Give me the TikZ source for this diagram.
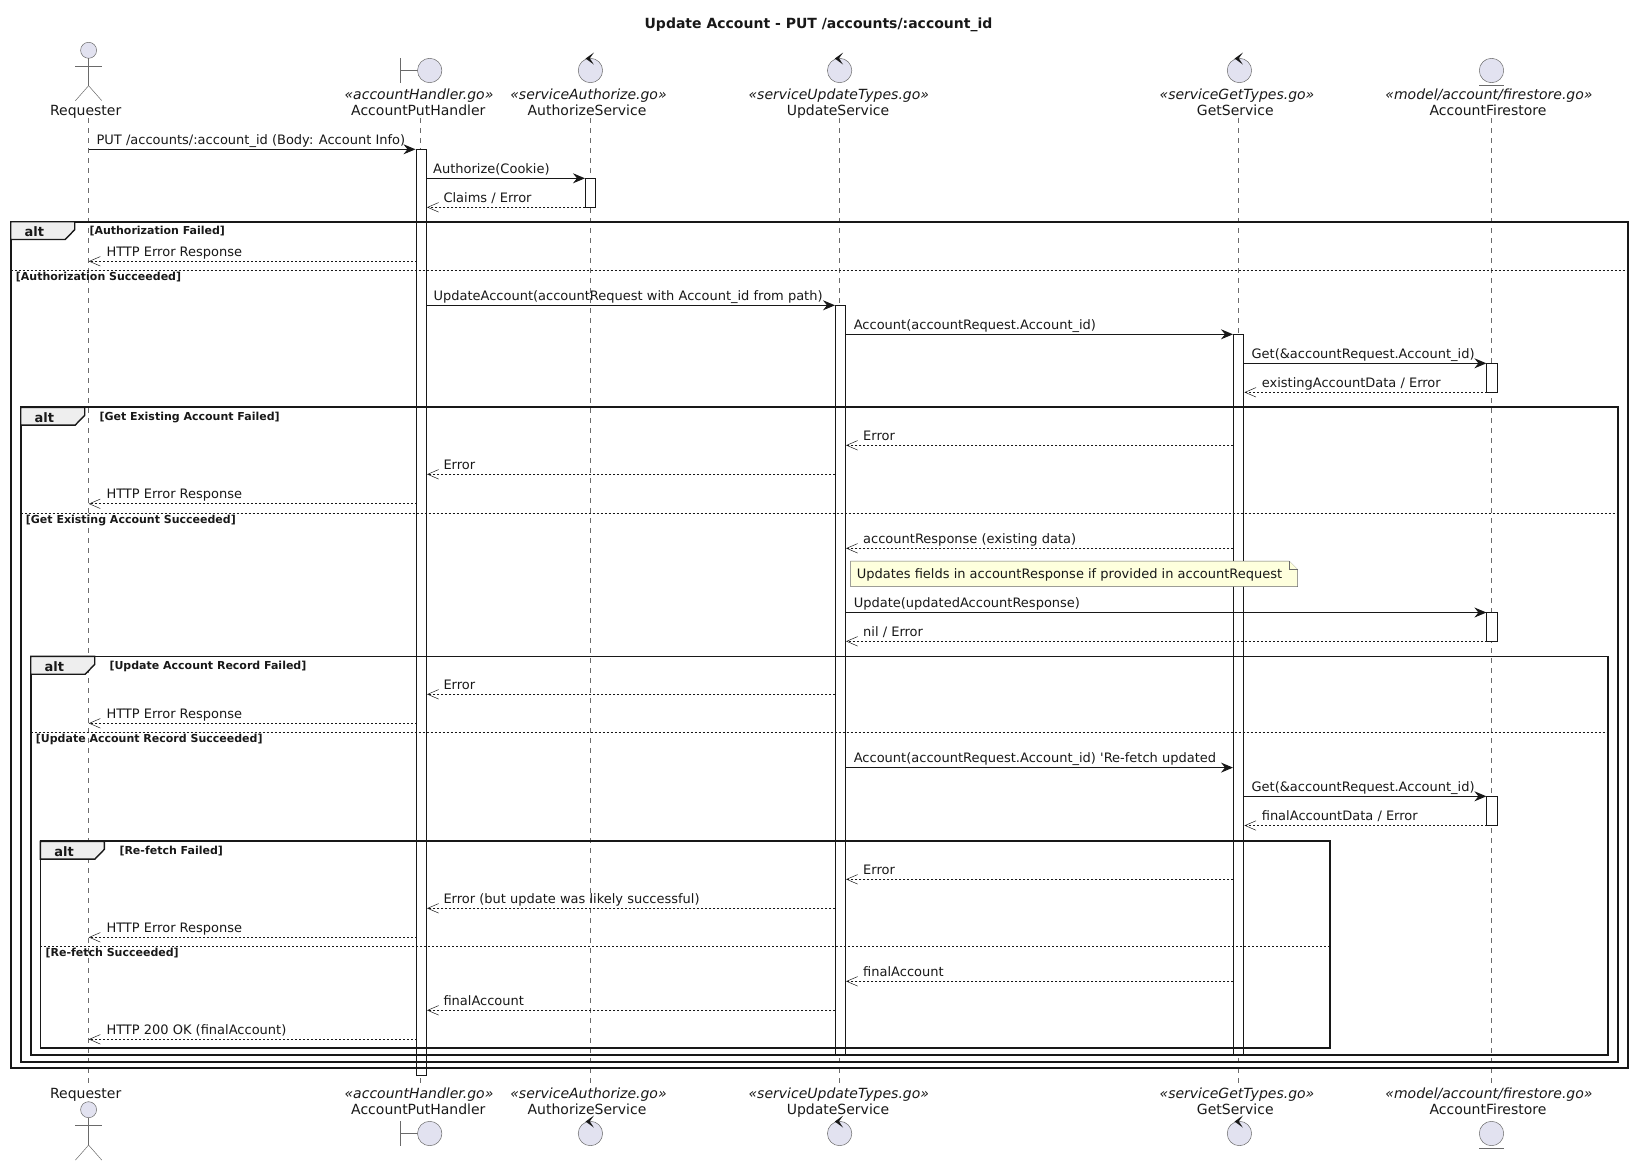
\documentclass[tikz,border=0pt]{standalone}
\usepackage{fontspec}
\setmainfont{DejaVu Sans}
\usetikzlibrary{arrows.meta}
\definecolor{ink}{HTML}{181818}
\definecolor{thin}{HTML}{6A6A6A}
\definecolor{actorfill}{HTML}{E2E2F0}
\definecolor{notefill}{HTML}{FEFFDD}
\definecolor{tabfill}{HTML}{EEEEEE}
\newcounter{mrow}
\newcounter{arow}
\tikzset{
  lifeline/.style={draw=thin,line width=.5pt,dash pattern=on 5pt off 5pt},
  actorshape/.style={draw=thin,line width=.5pt,fill=actorfill},
  actorstroke/.style={draw=thin,line width=.5pt},
  actorname/.style={inner sep=0pt,anchor=base,font=\fontsize{14}{16}\selectfont,text=ink},
  actorstereo/.style={inner sep=0pt,anchor=base,font=\fontsize{14}{16}\selectfont\itshape,text=ink},
  actbar/.style={draw=ink,line width=1pt,fill=white},
  callline/.style={draw=ink,line width=1pt,-{Stealth[length=12pt,width=10pt,inset=4pt]}},
  backline/.style={draw=ink,line width=.8pt,dash pattern=on 2pt off 2pt,-{Straight Barb[length=11pt,width=9.5pt,line width=.5pt]}},
  msgtext/.style={inner sep=0pt,anchor=base west,font=\fontsize{13}{15}\selectfont,text=ink},
  framebox/.style={draw=ink,line width=1.8pt},
  tabshape/.style={draw=ink,line width=1.4pt,fill=tabfill},
  tabtext/.style={inner sep=0pt,anchor=base,font=\fontsize{13}{15}\selectfont\bfseries,text=ink},
  guardtext/.style={inner sep=0pt,anchor=base west,font=\fontsize{11}{13}\selectfont\bfseries,text=ink},
  divider/.style={draw=ink,line width=1pt,dash pattern=on 2pt off 2pt},
  notebox/.style={draw=thin,line width=.5pt,fill=notefill},
}
% style, x start, x tip, y, x text, text
\newcommand{\msgline}[6]{%
  \stepcounter{mrow}%
  \coordinate (s\themrow) at (#2,#4);
  \coordinate (e\themrow) at (#3,#4);
  \draw[#1] (s\themrow) -- (e\themrow);
  \node[msgtext] (t\themrow) at (#5,#4-5) {#6};
}
\newcommand{\callm}[5]{\msgline{callline}{#1}{#2}{#3}{#4}{#5}}
\newcommand{\backm}[5]{\msgline{backline}{#1}{#2}{#3}{#4}{#5}}
% x1, y1, x2, y2, guard x, guard text
\newcommand{\altbox}[6]{%
  \stepcounter{arow}%
  \draw[framebox] (#1,#2) rectangle (#3,#4);
  \draw[tabshape] (#1,#2) -- (#1+64,#2) -- (#1+64,#2+8) -- (#1+54.5,#2+17.8) -- (#1,#2+17.8) -- cycle;
  \node[tabtext] (altt\thearow) at (#1+23.7,#2+14.8) {alt};
  \node[guardtext] (altg\thearow) at (#5,#2+13.2) {#6};
}
% x1, x2, y, text
\newcommand{\altelse}[4]{%
  \stepcounter{arow}%
  \coordinate (dl\thearow) at (#1,#3);
  \coordinate (dr\thearow) at (#2,#3);
  \draw[divider] (dl\thearow) -- (dr\thearow);
  \node[guardtext] (altg\thearow) at (#1+5,#3+9.8) {#4};
}
% x, y of circle centre
\newcommand{\controlglyph}[2]{%
  \draw[actorshape] (#1,#2) circle (12.2);
  \fill[ink] (#1+3.6,#2-18) -- (#1-4.8,#2-12) -- (#1+3.4,#2-6) -- (#1-0.6,#2-12.2) -- cycle;
}
\newcommand{\boundaryglyph}[2]{%
  \draw[actorstroke] (#1-29.3,#2-12.2) -- (#1-29.3,#2+12.2);
  \draw[actorstroke] (#1-29.3,#2) -- (#1-12.2,#2);
  \draw[actorshape] (#1,#2) circle (12.2);
}
\newcommand{\entityglyph}[2]{%
  \draw[actorshape] (#1,#2) circle (12.2);
  \draw[actorstroke] (#1-12.2,#2+14.4) -- (#1+12.2,#2+14.4);
}
\newcommand{\actorglyph}[2]{%
  \draw[actorshape] (#1,#2) circle (8);
  \draw[actorstroke] (#1,#2+8) -- (#1,#2+35.4);
  \draw[actorstroke] (#1-13.2,#2+15.7) -- (#1+13.2,#2+15.7);
  \draw[actorstroke] (#1,#2+35.4) -- (#1-13.2,#2+50.4);
  \draw[actorstroke] (#1,#2+35.4) -- (#1+13.2,#2+50.4);
}
\begin{document}
\begin{tikzpicture}[x=1pt,y=-1pt]
\useasboundingbox (0,0) rectangle (1633,1165);
\node[inner sep=0pt,anchor=base,font=\fontsize{14}{16}\selectfont\bfseries,text=ink] (title) at (818.5,28.3) {Update Account - PUT /accounts/:account\_id};

% top participants
\actorglyph{88.6}{50.3}
\boundaryglyph{429.7}{70.5}
\controlglyph{590.4}{70.5}
\controlglyph{839.6}{70.5}
\controlglyph{1239.4}{70.5}
\entityglyph{1491.5}{70.5}
\node[actorname] (reqT) at (85.7,115) {Requester};
\node[actorstereo] (hanS) at (419,99.2) {«accountHandler.go»};
\node[actorname] (hanT) at (418.3,115) {AccountPutHandler};
\node[actorstereo] (autS) at (588.5,99.2) {«serviceAuthorize.go»};
\node[actorname] (autT) at (587,115) {AuthorizeService};
\node[actorstereo] (updS) at (838.8,99.2) {«serviceUpdateTypes.go»};
\node[actorname] (updT) at (838,115) {UpdateService};
\node[actorstereo] (getS) at (1237,99.2) {«serviceGetTypes.go»};
\node[actorname] (getT) at (1235.3,115) {GetService};
\node[actorstereo] (firS) at (1489,99.2) {«model/account/firestore.go»};
\node[actorname] (firT) at (1488,115) {AccountFirestore};

% bottom participants
\actorglyph{88.6}{1109.7}
\boundaryglyph{429.7}{1133.5}
\controlglyph{590.4}{1133.5}
\controlglyph{839.6}{1133.5}
\controlglyph{1239.4}{1133.5}
\entityglyph{1491.5}{1133.5}
\node[actorname] (reqB) at (85.7,1098.5) {Requester};
\node[actorstereo] (hanBS) at (419,1098.5) {«accountHandler.go»};
\node[actorname] (hanB) at (418.3,1114.2) {AccountPutHandler};
\node[actorstereo] (autBS) at (588.5,1098.5) {«serviceAuthorize.go»};
\node[actorname] (autB) at (587,1114.2) {AuthorizeService};
\node[actorstereo] (updBS) at (838.8,1098.5) {«serviceUpdateTypes.go»};
\node[actorname] (updB) at (838,1114.2) {UpdateService};
\node[actorstereo] (getBS) at (1237,1098.5) {«serviceGetTypes.go»};
\node[actorname] (getB) at (1235.3,1114.2) {GetService};
\node[actorstereo] (firBS) at (1489,1098.5) {«model/account/firestore.go»};
\node[actorname] (firB) at (1488,1114.2) {AccountFirestore};

% lifelines
\foreach \nm/\xx in {req/88.7,han/420.5,aut/590.6,upd/839.3,get/1237.8,fir/1491.7}{
  \coordinate (\nm L1) at (\xx,118.3);
  \coordinate (\nm L2) at (\xx,1083.3);
  \draw[lifeline] (\nm L1) -- (\nm L2);
}

% activations
\draw[actbar] (416.5,149.3) rectangle (426.5,1075.5);
\draw[actbar] (585.4,178.3) rectangle (595.5,207.3);
\draw[actbar] (835.4,305.3) rectangle (845.6,1054.7);
\draw[actbar] (1233.4,334.3) rectangle (1243.8,1054.7);
\draw[actbar] (1486.8,363.3) rectangle (1497,392.3);
\draw[actbar] (1486.8,612.6) rectangle (1497,641.3);
\draw[actbar] (1486.8,796.3) rectangle (1497,825.5);

% frames
\altbox{10.7}{221.7}{1628}{1068.3}{89.3}{[Authorization Failed]}
\altelse{10.7}{1628}{270.3}{[Authorization Succeeded]}
\altbox{20.7}{407.3}{1618}{1061.7}{99.3}{[Get Existing Account Failed]}
\altelse{20.7}{1618}{513.3}{[Get Existing Account Succeeded]}
\altbox{30.7}{656.4}{1608}{1054.7}{109.3}{[Update Account Record Failed]}
\altelse{30.7}{1608}{732.3}{[Update Account Record Succeeded]}
\altbox{40.4}{841.3}{1330}{1047.7}{119.3}{[Re-fetch Failed]}
\altelse{40.4}{1330}{946.3}{[Re-fetch Succeeded]}

% messages
\callm{88.7}{415.5}{149.3}{96.4}{PUT /accounts/:account\_id (Body: Account Info)}
\callm{426.5}{585}{178.3}{433}{Authorize(Cookie)}
\backm{585.4}{427}{207.3}{443.3}{Claims / Error}
\backm{416.5}{88.7}{261.3}{106.3}{HTTP Error Response}
\callm{426.5}{835}{305.3}{433.3}{UpdateAccount(accountRequest with Account\_id from path)}
\callm{845.6}{1233}{334.3}{853.6}{Account(accountRequest.Account\_id)}
\callm{1243.8}{1486.4}{363.3}{1251.4}{Get(\&accountRequest.Account\_id)}
\backm{1486.8}{1244.4}{392.3}{1261.6}{existingAccountData / Error}
\backm{1233.4}{846}{445.3}{863}{Error}
\backm{835.4}{427}{474.3}{443.3}{Error}
\backm{416.5}{88.7}{503.8}{106.3}{HTTP Error Response}
\backm{1233.4}{846}{548.3}{863}{accountResponse (existing data)}

% note
\coordinate (noteNW) at (850.5,561);
\coordinate (noteNE) at (1297.5,569.5);
\draw[notebox] (noteNW) -- (1289,561) -- (noteNE) -- (1297.5,586.7) -- (850.5,586.7) -- cycle;
\draw[notebox] (1289,561) -- (1289,569.5) -- (noteNE);
\node[msgtext] (noteT) at (856.6,578.3) {Updates fields in accountResponse if provided in accountRequest};

\callm{845.6}{1486.4}{612.5}{853.6}{Update(updatedAccountResponse)}
\backm{1486.8}{846}{641.3}{863}{nil / Error}
\backm{835.4}{427}{694.3}{443.3}{Error}
\backm{416.5}{88.7}{723.3}{106.3}{HTTP Error Response}
\callm{845.6}{1233}{767.6}{853.6}{Account(accountRequest.Account\_id) \textquotesingle Re-fetch updated}
\callm{1243.8}{1486.4}{796.3}{1251.4}{Get(\&accountRequest.Account\_id)}
\backm{1486.8}{1244.4}{825.5}{1261.6}{finalAccountData / Error}
\backm{1233.4}{846}{879.3}{863}{Error}
\backm{835.4}{427}{908.3}{443.3}{Error (but update was likely successful)}
\backm{416.5}{88.7}{937.3}{106.3}{HTTP Error Response}
\backm{1233.4}{846}{981.3}{863}{finalAccount}
\backm{835.4}{427}{1010.3}{443.3}{finalAccount}
\backm{416.5}{88.7}{1039.3}{106.3}{HTTP 200 OK (finalAccount)}
\end{tikzpicture}
\end{document}
